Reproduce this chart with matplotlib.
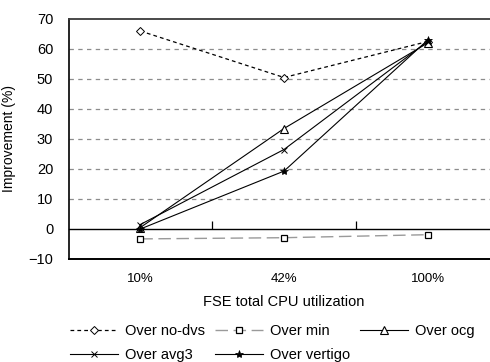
import matplotlib
matplotlib.use("Agg")
import matplotlib.pyplot as plt

plt.rcParams['font.family'] = ['Liberation Sans', 'DejaVu Sans']

# Data
categories = ["10%", "42%", "100%"]
over_no_dvs = [66.0, 50.5, 62.5]
over_min = [-3.3, -2.9, -1.9]
over_ocg = [0.5, 33.5, 62.0]
over_avg3 = [1.5, 26.5, 62.5]
over_vertigo = [0.0, 19.3, 63.0]
y_ticks = [-10, 0, 10, 20, 30, 40, 50, 60, 70]

W, H = 490, 362
fig = plt.figure(figsize=(W / 100, H / 100), dpi=100)
ax = fig.add_axes([68.5 / W, (H - 259) / H, 431 / W, 240 / H])

x = list(range(len(categories)))
fs = 9.5

ax.plot(x, over_no_dvs, color='black', lw=0.9, ls=(0, (3, 2.5)),
        marker='D', ms=3.8, mfc='white', mec='black', mew=0.7, label='Over no-dvs')
ax.plot(x, over_min, color='#9a9a9a', lw=1.0, ls=(0, (9, 4)),
        marker='s', ms=4.8, mfc='white', mec='black', mew=0.9, label='Over min')
ax.plot(x, over_ocg, color='black', lw=0.8,
        marker='^', ms=6, mfc='white', mec='black', mew=0.8, label='Over ocg')
ax.plot(x, over_avg3, color='black', lw=0.8,
        marker='x', ms=4.5, mec='black', mew=0.7, label='Over avg3')
ax.plot(x, over_vertigo, color='black', lw=0.8,
        marker='*', ms=6, mfc='black', mec='black', mew=0.5, label='Over vertigo')

ax.set_xlim(-0.5, 2.5)
ax.set_ylim(-10, 70)
ax.set_yticks(y_ticks)
ax.set_xticks(x)
ax.set_xticklabels(categories)
ax.tick_params(axis='y', length=0, pad=11, labelsize=fs + 1)
ax.tick_params(axis='x', length=0, pad=10, labelsize=fs)

for t in y_ticks[2:-1]:
    ax.axhline(t, color='#8c8c8c', lw=0.9, ls=(0, (3.5, 3.5)), zorder=0)

# category axis crossing at zero, with boundary tick marks pointing up
zero_axis = ax.secondary_xaxis((0 - (-10)) / 80)
zero_axis.set_xticks([0.5, 1.5])
zero_axis.set_xticklabels(['', ''])
zero_axis.tick_params(direction='in', length=6, width=0.9, color='black')
zero_axis.spines['bottom'].set_linewidth(1.0)

ax.spines['right'].set_visible(False)
ax.spines['top'].set_color('#3c3c3c')
ax.spines['top'].set_linewidth(1.3)
ax.spines['left'].set_linewidth(1.2)
ax.spines['bottom'].set_linewidth(1.4)

ax.set_ylabel('Improvement (%)', fontsize=fs + 0.5, labelpad=9)
ax.set_xlabel('FSE total CPU utilization', fontsize=fs + 1, labelpad=7)

handles, labels = ax.get_legend_handles_labels()
order = [0, 3, 1, 4, 2]
leg = fig.legend([handles[i] for i in order], [labels[i] for i in order],
                 ncol=3, loc='upper left', bbox_to_anchor=(60 / W, 1 - 314 / H),
                 frameon=False, fontsize=fs + 1, handlelength=3.3,
                 handletextpad=0.45, columnspacing=0.7, labelspacing=0.7,
                 borderpad=0.2)

fig.savefig('out.png', dpi=100)
